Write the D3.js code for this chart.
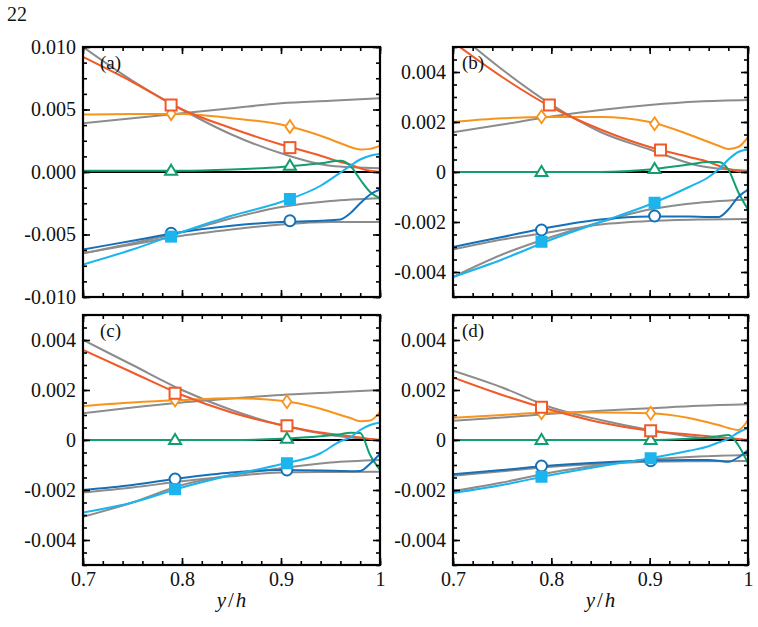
<!DOCTYPE html>
<html><head><meta charset="utf-8">
<script src="https://cdn.jsdelivr.net/npm/d3@7"></script>
<style>body{margin:0;background:#fff}</style>
</head><body>
<script>
// ---------------- data ----------------
const xs = [0.70, 0.75, 0.80, 0.85, 0.90, 0.94, 0.96, 0.97, 0.98, 0.99, 1.00];
const gx = [0.70, 0.75, 0.80, 0.85, 0.90, 0.95, 1.00];
const panelLabels = ["(a)", "(b)", "(c)", "(d)"];
const xTickValues = [0.7, 0.8, 0.9, 1.0];
const xTickLabels = ["0.7", "0.8", "0.9", "1"];
const yTickValuesA = [-0.01, -0.005, 0, 0.005, 0.01];
const yTickLabelsA = ["-0.010", "-0.005", "0.000", "0.005", "0.010"];
const yTickValuesB = [-0.004, -0.002, 0, 0.002, 0.004];
const yTickLabelsB = ["-0.004", "-0.002", "0", "0.002", "0.004"];

// coloured curves, one row per panel (a,b,c,d), sampled at xs
const redLines = [
  [0.0092, 0.0072, 0.0050, 0.0035, 0.0022, 0.0013, 0.0008, 0.0006, 0.0003, 0.0001, 0.0],
  [0.0052, 0.0038, 0.0026, 0.0017, 0.0010, 0.0006, 0.0004, 0.00025, 0.00012, 0.00003, 0.0],
  [0.0036, 0.0027, 0.0018, 0.0011, 0.0006, 0.0003, 0.0002, 0.00015, 0.0001, 0.00004, 0.0],
  [0.0025, 0.0018, 0.0012, 0.0007, 0.00037, 0.00022, 0.00015, 0.00012, 0.00008, 0.00004, 0.0]
];
const orangeLines = [
  [0.0046, 0.00465, 0.00465, 0.0043, 0.0038, 0.0029, 0.0023, 0.0020, 0.0018, 0.00185, 0.0021],
  [0.0020, 0.00215, 0.0022, 0.0022, 0.0020, 0.0015, 0.0012, 0.00105, 0.00092, 0.0010, 0.0014],
  [0.00136, 0.0015, 0.0016, 0.00167, 0.00157, 0.00125, 0.0010, 0.00088, 0.00075, 0.00078, 0.00113],
  [0.00089, 0.0010, 0.0011, 0.0011, 0.00107, 0.00088, 0.0007, 0.0006, 0.00048, 0.0004, 0.0008]
];
const greenLines = [
  [0.0001, 0.0001, 0.0001, 0.0002, 0.0004, 0.0007, 0.0009, 0.0005, -0.0006, -0.0016, -0.0021],
  [0.0, 0.0, 0.0, 0.0, 0.0001, 0.0003, 0.0004, 0.0004, 0.0001, -0.0008, -0.0015],
  [0.0, 0.0, 0.0, 0.0, 0.00005, 0.00015, 0.00023, 0.00029, 0.00028, -0.0006, -0.0012],
  [0.0, 0.0, 0.0, 0.0, 0.0, 0.00005, 0.0001, 0.00015, 0.0002, -0.0002, -0.00093]
];
const cyanLines = [
  [-0.0074, -0.0062, -0.0048, -0.0035, -0.0024, -0.0011, -0.00005, 0.0005, 0.0010, 0.0013, 0.00144],
  [-0.0042, -0.0035, -0.0027, -0.0020, -0.0013, -0.0006, -0.0002, 0.0001, 0.0005, 0.0008, 0.0009],
  [-0.0029, -0.0025, -0.0019, -0.0014, -0.00097, -0.00053, -0.00005, 0.0001, 0.0004, 0.0006, 0.0007],
  [-0.00212, -0.0018, -0.0014, -0.00105, -0.00073, -0.00043, -0.00025, -0.0001, 0.00005, 0.0003, 0.00047]
];
const blueLines = [
  [-0.0062, -0.0055, -0.0048, -0.0043, -0.0040, -0.0039, -0.0038, -0.0033, -0.0025, -0.0018, -0.0014],
  [-0.0030, -0.0026, -0.0022, -0.0019, -0.00178, -0.00178, -0.0018, -0.0018, -0.0015, -0.0010, -0.0007],
  [-0.0020, -0.0018, -0.00152, -0.0013, -0.0012, -0.00122, -0.00124, -0.00125, -0.00124, -0.00095, -0.00055],
  [-0.00137, -0.0012, -0.00102, -0.0009, -0.00082, -0.0008, -0.0008, -0.00083, -0.00087, -0.0007, -0.0004]
];

// grey reference curves, sampled at gx
const greyRed = [
  [0.0100, 0.0073, 0.0050, 0.0030, 0.0015, 0.0005, 0.0003],
  [0.0057, 0.0041, 0.0027, 0.0016, 0.0009, 0.00025, 0.00005],
  [0.0040, 0.0030, 0.0020, 0.0012, 0.0006, 0.0002, 0.0],
  [0.00277, 0.0021, 0.0013, 0.0008, 0.0004, 0.0001, 0.0]
];
const greyOrange = [
  [0.0039, 0.0043, 0.0047, 0.0051, 0.0055, 0.0057, 0.0059],
  [0.00159, 0.0019, 0.00222, 0.00248, 0.00268, 0.00282, 0.00288],
  [0.00107, 0.0013, 0.0015, 0.00166, 0.0018, 0.0019, 0.0020],
  [0.00077, 0.0009, 0.00105, 0.00117, 0.00127, 0.00137, 0.00143]
];
const greyGreen = [
  [0, 0, 0, 0, 0, 0, 0], [0, 0, 0, 0, 0, 0, 0], [0, 0, 0, 0, 0, 0, 0], [0, 0, 0, 0, 0, 0, 0]
];
const greyCyan = [
  [-0.0065, -0.0057, -0.0048, -0.0037, -0.0028, -0.00232, -0.0021],
  [-0.0042, -0.0033, -0.0026, -0.0020, -0.0015, -0.00123, -0.0011],
  [-0.00307, -0.0025, -0.0018, -0.0014, -0.00113, -0.0009, -0.0008],
  [-0.00205, -0.0017, -0.0013, -0.0010, -0.00078, -0.00066, -0.0006]
];
const greyBlue = [
  [-0.0065, -0.0058, -0.0051, -0.0046, -0.0042, -0.0040, -0.0040],
  [-0.0031, -0.0027, -0.0024, -0.0021, -0.00196, -0.0019, -0.00188],
  [-0.0021, -0.0019, -0.00165, -0.00145, -0.0013, -0.00128, -0.00127],
  [-0.00143, -0.00125, -0.00107, -0.00095, -0.00087, -0.00085, -0.00084]
];

// markers
const markerX = [[0.789, 0.909], [0.79, 0.905], [0.793, 0.906], [0.79, 0.901]];
const redMarkerX = [[0.789, 0.909], [0.798, 0.911], [0.793, 0.906], [0.79, 0.901]];
const redMarks = [[0.00536, 0.00195], [0.00268, 0.00088], [0.00187, 0.00057], [0.00131, 0.00037]];
const orangeMarks = [[0.00467, 0.00363], [0.00221, 0.00193], [0.0016, 0.00153], [0.00109, 0.00107]];
const greenMarks = [[0.0001, 0.0005], [0.0, 0.00012], [0.0, 0.00005], [0.0, 0.0]];
const blueMarks = [[-0.0049, -0.0039], [-0.00232, -0.00176], [-0.00156, -0.0012], [-0.00104, -0.00083]];
const cyanMarks = [[-0.00517, -0.00216], [-0.00279, -0.00123], [-0.00197, -0.00093], [-0.00147, -0.00073]];

// ---------------- drawing ----------------
const W = 758, H = 627;
const FONT = "Liberation Serif";
const C = {red: "#F05A28", orange: "#F7941D", green: "#119E70", cyan: "#1BB4EC", blue: "#1570B8", grey: "#8C8C8C"};

const svg = d3.select("body").append("svg").attr("width", W).attr("height", H)
  .attr("font-family", FONT);

svg.append("text").attr("x", 7).attr("y", 21).attr("font-family", FONT).attr("font-size", 20).attr("fill", "#111").text("22");

const boxes = [
  {x0: 83, x1: 380, y0: 47, y1: 297, lx: 100},
  {x0: 453, x1: 748, y0: 47, y1: 297, lx: 462},
  {x0: 83, x1: 380, y0: 315, y1: 565, lx: 100},
  {x0: 453, x1: 748, y0: 315, y1: 565, lx: 462}
];

boxes.forEach((b, i) => {
  const x = d3.scaleLinear().domain([0.7, 1.0]).range([b.x0, b.x1]);
  const ydom = i === 0 ? [-0.01, 0.01] : [-0.005, 0.005];
  const y = d3.scaleLinear().domain(ydom).range([b.y1, b.y0]);
  const g = svg.append("g");
  const clipId = "clip" + i;
  svg.append("clipPath").attr("id", clipId).append("rect")
    .attr("x", b.x0).attr("y", b.y0).attr("width", b.x1 - b.x0).attr("height", b.y1 - b.y0);
  const plot = g.append("g").attr("clip-path", `url(#${clipId})`);

  const lineC = d3.line().x(d => x(d[0])).y(d => y(d[1])).curve(d3.curveMonotoneX);

  [greyRed, greyOrange, greyGreen, greyCyan, greyBlue].forEach(arr => {
    plot.append("path").datum(gx.map((v, k) => [v, arr[i][k]]))
      .attr("d", lineC).attr("fill", "none").attr("stroke", C.grey).attr("stroke-width", 2);
  });
  plot.append("line").attr("x1", b.x0).attr("x2", b.x1).attr("y1", y(0)).attr("y2", y(0))
    .attr("stroke", "#000").attr("stroke-width", 2.2);

  const series = [
    [orangeLines, C.orange], [redLines, C.red], [greenLines, C.green], [blueLines, C.blue], [cyanLines, C.cyan]
  ];
  series.forEach(([arr, col]) => {
    plot.append("path").datum(xs.map((v, k) => [v, arr[i][k]]))
      .attr("d", lineC).attr("fill", "none").attr("stroke", col).attr("stroke-width", 2);
  });

  const mk = plot.append("g");
  blueMarks[i].forEach((v, k) => {
    mk.append("circle").attr("cx", x(markerX[i][k])).attr("cy", y(v)).attr("r", 5.5)
      .attr("fill", "#fff").attr("stroke", C.blue).attr("stroke-width", 2);
  });
  cyanMarks[i].forEach((v, k) => {
    mk.append("rect").attr("x", x(markerX[i][k]) - 6).attr("y", y(v) - 6).attr("width", 12).attr("height", 12)
      .attr("fill", C.cyan);
  });
  greenMarks[i].forEach((v, k) => {
    const cx = x(markerX[i][k]), cy = y(v);
    mk.append("path").attr("d", `M${cx},${cy - 6}L${cx + 6},${cy + 4}L${cx - 6},${cy + 4}Z`)
      .attr("fill", "#fff").attr("stroke", C.green).attr("stroke-width", 2);
  });
  orangeMarks[i].forEach((v, k) => {
    const cx = x(markerX[i][k]), cy = y(v);
    mk.append("path").attr("d", `M${cx},${cy - 6.5}L${cx + 4.5},${cy}L${cx},${cy + 6.5}L${cx - 4.5},${cy}Z`)
      .attr("fill", "#fff").attr("stroke", C.orange).attr("stroke-width", 1.8);
  });
  redMarks[i].forEach((v, k) => {
    mk.append("rect").attr("x", x(redMarkerX[i][k]) - 5.5).attr("y", y(v) - 5.5).attr("width", 11).attr("height", 11)
      .attr("fill", "#fff").attr("stroke", C.red).attr("stroke-width", 2);
  });

  const minorY = i === 0 ? d3.range(-0.01, 0.01 + 1e-9, 0.00125) : d3.range(-0.005, 0.005 + 1e-9, 0.0005);
  const majorY = i === 0 ? yTickValuesA : yTickValuesB;
  const labelsY = i === 0 ? yTickLabelsA : yTickLabelsB;
  const minorX = d3.range(0.7, 1.0 + 1e-9, 0.02);

  const styleAxis = sel => {
    sel.attr("font-family", FONT);
    sel.select(".domain").remove();
    sel.selectAll("line").attr("stroke", "#000").attr("stroke-width", 1.6);
    sel.selectAll("text").attr("font-family", FONT).attr("font-size", 20).attr("fill", "#111");
  };

  g.append("g").attr("transform", `translate(${b.x0},0)`)
    .call(d3.axisLeft(y).tickValues(minorY).tickSize(-4).tickFormat("")).call(styleAxis);
  g.append("g").attr("transform", `translate(${b.x0},0)`)
    .call(d3.axisLeft(y).tickValues(majorY).tickSize(-7).tickPadding(7)
      .tickFormat((d, k) => labelsY[k])).call(styleAxis);
  g.append("g").attr("transform", `translate(${b.x1},0)`)
    .call(d3.axisRight(y).tickValues(minorY).tickSize(-4).tickFormat("")).call(styleAxis);
  g.append("g").attr("transform", `translate(${b.x1},0)`)
    .call(d3.axisRight(y).tickValues(majorY).tickSize(-7).tickFormat("")).call(styleAxis);
  g.append("g").attr("transform", `translate(0,${b.y1})`)
    .call(d3.axisBottom(x).tickValues(minorX).tickSize(-4).tickFormat("")).call(styleAxis);
  g.append("g").attr("transform", `translate(0,${b.y1})`)
    .call(d3.axisBottom(x).tickValues(xTickValues).tickSize(-7).tickPadding(7)
      .tickFormat((d, k) => i >= 2 ? xTickLabels[k] : "")).call(styleAxis);
  g.append("g").attr("transform", `translate(0,${b.y0})`)
    .call(d3.axisTop(x).tickValues(minorX).tickSize(-4).tickFormat("")).call(styleAxis);
  g.append("g").attr("transform", `translate(0,${b.y0})`)
    .call(d3.axisTop(x).tickValues(xTickValues).tickSize(-7).tickFormat("")).call(styleAxis);

  g.append("rect").attr("x", b.x0).attr("y", b.y0).attr("width", b.x1 - b.x0).attr("height", b.y1 - b.y0)
    .attr("fill", "none").attr("stroke", "#000").attr("stroke-width", 2.2);

  g.append("text").attr("x", b.lx).attr("y", b.y0 + 22).attr("font-family", FONT).attr("font-size", 19).attr("fill", "#111")
    .text(panelLabels[i]);

  if (i >= 2) {
    const t = g.append("text").attr("x", (b.x0 + b.x1) / 2).attr("y", 607).attr("font-family", FONT)
      .attr("text-anchor", "middle").attr("font-size", 21).attr("fill", "#111");
    t.append("tspan").attr("font-style", "italic").text("y");
    t.append("tspan").attr("dx", 2).text("/");
    t.append("tspan").attr("dx", 2).attr("font-style", "italic").text("h");
  }
});
</script>
</body></html>
